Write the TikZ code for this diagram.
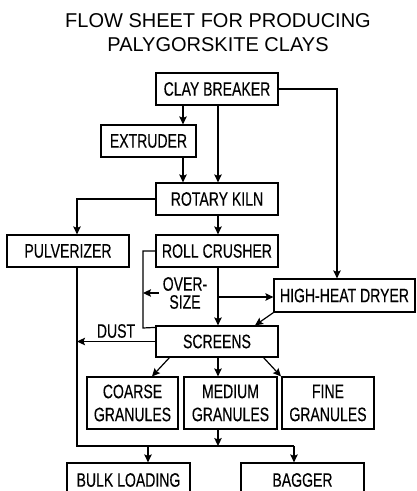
\documentclass[tikz,border=0pt]{standalone}
\usepackage{fontspec}
\setmainfont{Liberation Sans}
\newfontfamily\narrowfont{Liberation Sans}[FakeStretch=0.72, FakeBold=0.3]
\usepackage{tikz}
\usetikzlibrary{arrows.meta, positioning, calc}

\begin{document}
\begin{tikzpicture}[x=1pt, y=-1pt,
  pbox/.style={rectangle, draw, line width=1.2pt,
    font=\narrowfont\fontsize{19.5pt}{23pt}\selectfont,
    minimum width=122pt, minimum height=32pt,
    align=center, inner sep=0pt},
  arr/.style={-{Stealth[length=8pt, width=7.5pt, inset=1.5pt]}, line width=1.2pt},
  lnk/.style={line width=1.2pt},
  lbl/.style={font=\narrowfont\fontsize{19.5pt}{18pt}\selectfont,
    align=center, inner sep=0pt}
]
\useasboundingbox (0,0) rectangle (416,491);
\clip (0,0) rectangle (416,491);

% title
\node[font=\fontsize{20pt}{24pt}\selectfont, align=center] (title) at (218,33)
  {FLOW SHEET FOR PRODUCING\\PALYGORSKITE CLAYS};

% process boxes
\node[pbox] at (217,89) (clay) {CLAY BREAKER};
\node[pbox, minimum width=95pt] at (148.5,141) (extr) {EXTRUDER};
\node[pbox] at (217,199) (kiln) {ROTARY KILN};
\node[pbox] at (68,251) (pulv) {PULVERIZER};
\node[pbox] at (217,251) (crush) {ROLL CRUSHER};
\node[pbox, minimum width=141pt, minimum height=33pt] at (344.5,295.5) (dryer) {HIGH-HEAT DRYER};
\node[pbox, minimum height=31pt] at (217,341.5) (screens) {SCREENS};

\node[pbox, minimum width=91pt, minimum height=52pt] at (132.5,403) (coarse) {COARSE\\GRANULES};
\node[pbox, minimum width=93pt, minimum height=52pt] at (230.5,403) (medium) {MEDIUM\\GRANULES};
\node[pbox, minimum width=92pt, minimum height=52pt] at (328,403) (fine) {FINE\\GRANULES};

\node[pbox, minimum width=123pt, minimum height=34pt] at (128.5,480) (bulk) {BULK LOADING};
\node[pbox, minimum width=123pt, minimum height=34pt] at (302.5,480) (bagger) {BAGGER};

% labels
\node[lbl] at (185,293) (over) {OVER-\\SIZE};
\node[lbl] at (116,331) (dust) {DUST};

% lanes
\coordinate (laneA) at (183,0);
\coordinate (laneB) at (218,0);
\coordinate (laneD) at (337,0);
\coordinate (laneP) at (77,0);
\coordinate (laneL) at (143,0);
\coordinate (laneS) at (255,0);
\coordinate (laneK) at (148,0);
\coordinate (laneG) at (294,0);
\coordinate (jn) at (0,446);

% connectors
\draw[arr] (clay.south -| laneA) -- (extr.north -| laneA);
\draw[arr] (extr.south -| laneA) -- (kiln.north -| laneA);
\draw[arr] (clay.south -| laneB) -- (kiln.north -| laneB);
\draw[arr] (clay.east) -| (laneD |- dryer.north);
\draw[arr] (kiln.west) -| (laneP |- pulv.north);
\draw[arr] (kiln.south -| laneB) -- (crush.north -| laneB);
\draw[arr] (crush.south -| laneB) -- (screens.north -| laneB);
\draw[arr] (laneB |- 0,297) -- (dryer.west |- 0,297);
\draw[arr] (dryer.south west) -- (screens.north -| laneS);
\draw[lnk] (crush.west) -| (laneL |- 0,328) -- ([yshift=-2pt]screens.north west);
\draw[arr] ([xshift=-4pt]over.west) -- (over.west -| laneL);
\draw[arr] (screens.west) -- (screens.west -| laneP);
\draw[arr] (170,357) -- (coarse.north -| 152,0);
\draw[arr] (screens.south -| laneB) -- (medium.north -| laneB);
\draw[arr] (263,357) -- (fine.north -| 281,0);
\draw[lnk] (pulv.south -| laneP) -- (laneP |- jn) -- (laneG |- jn);
\draw[arr] (medium.south -| laneB) -- (laneB |- jn);
\draw[arr] (laneK |- jn) -- (bulk.north -| laneK);
\draw[arr] (laneG |- jn) -- (bagger.north -| laneG);
\end{tikzpicture}
\end{document}
